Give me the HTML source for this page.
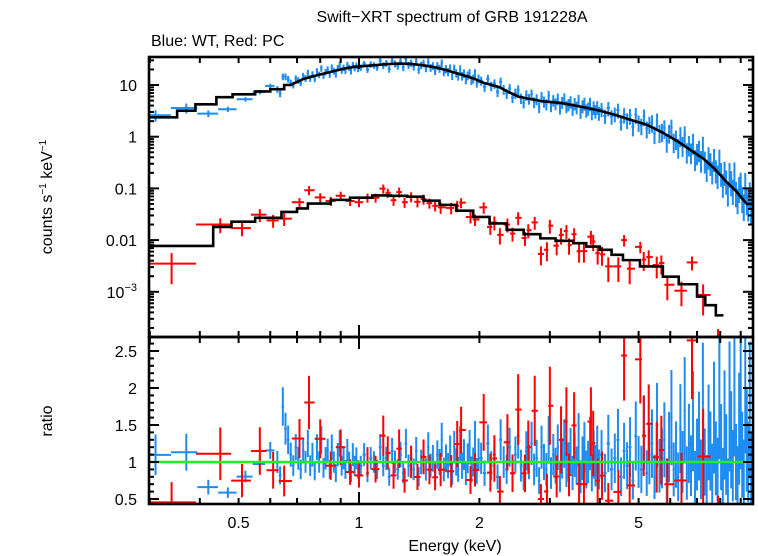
<!DOCTYPE html>
<html><head><meta charset="utf-8"><style>
body{margin:0;background:#fff;}
svg{display:block;font-family:"Liberation Sans",sans-serif;}
</style></head><body>
<svg id="chart" width="758" height="556" viewBox="0 0 758 556" xmlns="http://www.w3.org/2000/svg">
<defs>
<clipPath id="ctop"><rect x="149" y="57" width="604" height="280"/></clipPath>
<clipPath id="cbot"><rect x="149" y="337" width="604" height="167"/></clipPath>
</defs>
<rect width="758" height="556" fill="#fff"/>
<text x="452" y="22" font-size="16" text-anchor="middle">Swift−XRT spectrum of GRB 191228A</text>
<text x="151" y="46" font-size="16">Blue: WT, Red: PC</text>
<text transform="translate(52,197) rotate(-90)" font-size="16" text-anchor="middle">counts s<tspan font-size="10" dy="-6">−1</tspan><tspan dy="6"> keV</tspan><tspan font-size="10" dy="-6">−1</tspan></text>
<text transform="translate(52,421) rotate(-90)" font-size="16" text-anchor="middle">ratio</text>
<text x="455" y="551" font-size="16" text-anchor="middle">Energy (keV)</text>
<g id="gbot" clip-path="url(#cbot)"></g>
<g id="gtop" clip-path="url(#ctop)"></g>
<g id="gaxes"></g>
</svg>
<script>
// Blue (WT) model: bin edges and values
const bmE=[0.3,0.351,0.39,0.44,0.483,0.55,0.6,0.65,0.7,0.75,0.8,0.85,0.9,0.95,1.0,1.1,1.2,1.3,1.4,1.5,1.6,1.7,1.8,1.9,2.0,2.1,2.2,2.3,2.4,2.6,2.8,3.0,3.4,3.8,4.2,4.6,5.0,5.5,6.0,6.5,7.0,7.5,8.0,8.5,9.0,9.66];
const bmV=[2.37,3.18,4.24,5.8,6.6,7.5,8.3,10,13,15,17,19,21,22.5,23.5,25,26,25.5,24,22,19.5,17,15,13,11,10,9,7.5,6,5.3,4.8,4.5,3.8,3.2,2.6,2.1,1.7,1.2,0.82,0.55,0.38,0.24,0.14,0.09,0.05];
// Red (PC) model
const rmE=[0.3,0.432,0.48,0.55,0.64,0.70,0.745,0.85,0.95,1.08,1.2,1.32,1.45,1.59,1.75,1.93,2.12,2.34,2.58,2.84,3.1,3.43,3.7,4.0,4.28,4.57,5.04,5.75,6.3,7.0,7.34,7.8,8.15];
const rmV=[0.0077,0.018,0.0227,0.027,0.035,0.041,0.051,0.06,0.066,0.073,0.072,0.069,0.058,0.048,0.037,0.028,0.021,0.0158,0.013,0.0108,0.0097,0.0087,0.0075,0.0065,0.0052,0.0041,0.0031,0.00196,0.0014,0.00081,0.00055,0.00035];
// Blue low-energy data (counts)
const bLoE=[0.31,0.37,0.42,0.47,0.52,0.565,0.6];
const bLoV=[2.6,3.6,2.8,3.4,5.3,7.3,9.6];
const bLoErr=[0.25,0.22,0.15,0.12,0.1,0.1,0.1];
// Blue WT channels: segments [start keV, step keV]
const bSegStart=[0.62,1.0,2.0,4.0];
const bSegStep=[0.01,0.02,0.04,0.08];
// Blue data/model ratio per channel, per segment
const bR1=[1.0,0.82,1.75,1.45,1.3,1.1,0.95,1.2,1.05,0.9,1.15,1.0,1.25,0.95,1.1,0.88,1.2,1.0,1.3,0.92,1.05,1.15,0.9,1.2,1.0,0.85,1.1,1.25,0.95,1.05,0.9,1.15,1.0,0.85,1.1,0.95,1.05,0.9];
const bR2=[0.95,1.1,0.85,1.05,1.0,0.9,1.2,0.95,1.05,0.8,1.15,1.0,0.9,1.1,0.85,1.25,0.95,1.05,0.9,1.15,0.8,1.0,1.1,0.9,1.2,0.95,1.05,0.85,1.1,1.0,1.3,0.9,1.05,0.95,1.15,0.85,1.2,1.0,0.9,1.25,0.95,1.1,0.85,1.05,1.2,0.9,1.0,1.3,0.88,1.1];
const bR3=[1.05,0.85,1.25,0.95,1.1,0.8,1.3,1.0,0.9,1.2,0.85,1.1,1.35,0.95,0.8,1.15,1.0,1.25,0.9,1.05,0.75,1.2,1.0,0.9,1.3,0.85,1.1,0.95,1.2,0.8,1.05,1.25,0.9,1.0,1.15,0.85,1.1,0.95,1.3,0.8,1.05,1.2,0.9,1.0,1.25,0.85,1.1,0.95,1.15,0.9];
const bR4=[1.1,0.85,1.25,0.9,1.05,1.3,0.8,1.15,0.95,1.2,0.75,1.35,1.0,0.9,1.4,0.85,1.1,1.25,0.8,1.5,0.95,1.05,1.3,0.75,1.2,1.6,0.9,1.1,0.8,1.45,1.0,1.7,0.85,1.25,0.95,1.55,0.8,1.1,1.35,0.9,1.8,1.0,0.75,1.4,1.15,0.85,1.6,1.05,0.9,2.0,1.2,0.8,1.5,1.1,0.7,1.75,1.3,0.95,2.2,1.0,0.8,1.45,1.9,1.1,0.85,2.4,1.3,1.0,1.7,0.9];
// Blue relative error vs energy
const bErrE=[0.6,1,2,4,6,9.6];
const bErrV=[0.15,0.14,0.2,0.3,0.4,0.55];
// Red data
const rE=[0.34,0.45,0.51,0.565,0.61,0.65,0.71,0.75,0.8,0.85,0.9,0.95,1.0,1.05,1.1,1.15,1.18,1.22,1.26,1.3,1.35,1.4,1.45,1.5,1.55,1.6,1.7,1.76,1.8,1.9,1.95,2.05,2.13,2.18,2.25,2.35,2.42,2.5,2.6,2.65,2.75,2.85,2.95,3.0,3.12,3.2,3.3,3.35,3.45,3.55,3.65,3.8,3.85,3.95,4.05,4.2,4.45,4.6,4.75,5.05,5.15,5.3,5.55,5.7,5.9,6.4,6.8,7.25,7.9];
const rV=[0.0035,0.020,0.017,0.031,0.024,0.026,0.054,0.092,0.067,0.057,0.072,0.057,0.054,0.066,0.066,0.099,0.082,0.059,0.085,0.054,0.069,0.055,0.062,0.052,0.046,0.043,0.042,0.046,0.053,0.028,0.025,0.043,0.018,0.022,0.0126,0.020,0.0134,0.027,0.011,0.0156,0.022,0.0054,0.0065,0.019,0.0078,0.0126,0.015,0.008,0.013,0.0061,0.0061,0.0116,0.0094,0.0056,0.0053,0.0031,0.0031,0.010,0.0028,0.0074,0.0042,0.0047,0.0033,0.0036,0.00137,0.00105,0.0037,0.00087,0.0001];
const rErr=[0.6,0.32,0.3,0.28,0.28,0.28,0.2,0.2,0.2,0.2,0.2,0.2,0.2,0.2,0.2,0.2,0.2,0.22,0.22,0.22,0.22,0.22,0.22,0.22,0.22,0.25,0.25,0.25,0.22,0.25,0.25,0.25,0.3,0.3,0.35,0.3,0.3,0.28,0.3,0.3,0.28,0.4,0.4,0.3,0.35,0.35,0.3,0.35,0.3,0.4,0.4,0.3,0.35,0.4,0.4,0.5,0.5,0.25,0.5,0.25,0.4,0.35,0.45,0.4,0.5,0.5,0.3,0.6,0.9];
// Axis tick labels
const xTickVals=[0.5,1,2,5];
const xTickLabels=["0.5","1","2","5"];
const yTopTickVals=[10,1,0.1,0.01];
const yTopTickLabels=["10","1","0.1","0.01"];
const yBotTickVals=[0.5,1,1.5,2,2.5];
const yBotTickLabels=["0.5","1","1.5","2","2.5"];

const NS="http://www.w3.org/2000/svg";
const X0=149,X1=753,TT=57,TB=337,BB=504;
const X=e=>359+400*Math.log10(e);
const YT=v=>85-51.7*(Math.log10(v)-1);
const YB=r=>462-74*(r-1);
function mk(tag,parent,attrs){const el=document.createElementNS(NS,tag);for(const k in attrs)el.setAttribute(k,attrs[k]);parent.appendChild(el);return el;}
const gtop=document.getElementById('gtop'),gbot=document.getElementById('gbot'),gax=document.getElementById('gaxes');
const SMOOTH=0.65;
function stepAt(E,V,e){for(let i=0;i<V.length;i++){if(e>=E[i]&&e<E[i+1])return V[i];}return V[V.length-1];}
// blue model: steps below SMOOTH, log-log interpolated between bin centres above
function blueCentres(){const c=[],v=[];for(let i=0;i<bmV.length;i++){if(bmE[i]>=SMOOTH){c.push(Math.sqrt(bmE[i]*bmE[i+1]));v.push(bmV[i]);}}return [c,v];}
function blueModel(e){if(e<SMOOTH)return stepAt(bmE,bmV,e);const [c,v]=blueCentres();
  if(e<=c[0])return v[0];for(let i=0;i<c.length-1;i++){if(e>=c[i]&&e<=c[i+1]){const t=(Math.log(e)-Math.log(c[i]))/(Math.log(c[i+1])-Math.log(c[i]));return Math.exp(Math.log(v[i])+t*(Math.log(v[i+1])-Math.log(v[i])));}}return v[v.length-1];}
function interp(xs,ys,x){if(x<=xs[0])return ys[0];for(let i=0;i<xs.length-1;i++){if(x<=xs[i+1]){const t=(x-xs[i])/(xs[i+1]-xs[i]);return ys[i]+t*(ys[i+1]-ys[i]);}}return ys[ys.length-1];}

function drawPoint(lo,hi,e,v,r,er,color,name){
  const g=mk('g',gtop,{stroke:color,'stroke-width':2});
  
  
  mk('line',g,{x1:X(lo),x2:X(hi),y1:YT(v),y2:YT(v)});
  mk('line',g,{x1:X(e),x2:X(e),y1:YT(v*(1+er)),y2:YT(Math.max(v*(1-er),1e-6))});
  const g2=mk('g',gbot,{stroke:color,'stroke-width':2});
  
  
  mk('line',g2,{x1:X(lo),x2:X(hi),y1:YB(r),y2:YB(r)});
  mk('line',g2,{x1:X(e),x2:X(e),y1:YB(r*(1+er)),y2:YB(r*(1-er))});
}
function edges(E,i){const lo=i>0?Math.sqrt(E[i-1]*E[i]):E[i]*E[i]/Math.sqrt(E[i]*E[i+1]);const hi=i<E.length-1?Math.sqrt(E[i]*E[i+1]):E[i]*E[i]/Math.sqrt(E[i-1]*E[i]);return [Math.max(lo,0.3),hi];}

// blue low-energy points
for(let i=0;i<bLoE.length;i++){const [lo,hi]=edges(bLoE,i);const r=bLoV[i]/blueModel(bLoE[i]);
  drawPoint(lo,Math.min(hi,0.615),bLoE[i],bLoV[i],r,bLoErr[i],'#1e8cf0','wt-data');}
// blue dense channels
[bR1,bR2,bR3,bR4].forEach((arr,s)=>{arr.forEach((r,j)=>{
  const lo=bSegStart[s]+j*bSegStep[s],hi=lo+bSegStep[s],e=(lo+hi)/2;
  const v=blueModel(e)*r;const er=interp(bErrE,bErrV,e);
  drawPoint(lo,hi,e,v,r,er,'#1e8cf0','wt-data');});});
// red points
for(let i=0;i<rE.length;i++){const [lo,hi]=edges(rE,i);const r=rV[i]/stepAt(rmE,rmV,rE[i]);
  drawPoint(lo,hi,rE[i],rV[i],r,rErr[i],'#ff0000','pc-data');}

// models
function stepPath(E,V){let d='M'+X(E[0])+' '+YT(V[0]);for(let i=0;i<V.length;i++){d+=' H'+X(E[i+1]);if(i+1<V.length)d+=' V'+YT(V[i+1]);}return d;}
function bluePath(){let d='M'+X(bmE[0])+' '+YT(bmV[0]);let i=0;
  for(;i<bmV.length&&bmE[i+1]<=SMOOTH;i++){d+=' H'+X(bmE[i+1])+' V'+YT(bmV[i+1]);}
  const [c,v]=blueCentres();d+=' H'+X(c[0]);for(let k=0;k<c.length;k++)d+=' L'+X(c[k])+' '+YT(v[k]);
  d+=' H'+X(bmE[bmE.length-1]);return d;}
const pb=mk('path',gtop,{d:bluePath(),fill:'none',stroke:'#000','stroke-width':2.6});


const pr=mk('path',gtop,{d:stepPath(rmE,rmV),fill:'none',stroke:'#000','stroke-width':2.6});


const gl=mk('line',gbot,{x1:X0,x2:X1,y1:YB(1),y2:YB(1),stroke:'#22ee22','stroke-width':2.6});



// frames
const f1=mk('rect',gax,{x:X0,y:TT,width:X1-X0,height:TB-TT,fill:'none',stroke:'#000','stroke-width':2.6});


const f2=mk('rect',gax,{x:X0,y:TB,width:X1-X0,height:BB-TB,fill:'none',stroke:'#000','stroke-width':2.6});


const tk=mk('g',gax,{stroke:'#000','stroke-width':2});


const xt=[];for(let e=0.3;e<1;e+=0.1)xt.push(+e.toFixed(1));for(let e=1;e<=9;e++)xt.push(e);
xt.forEach(e=>{const x=X(e);const L=(e===1)?12:6;
  [[TT,1],[TB,-1],[TB,1],[BB,-1]].forEach(([y,s])=>mk('line',tk,{x1:x,x2:x,y1:y,y2:y+s*L}));});
for(let d=-4;d<=1;d++){for(let m=1;m<=9;m++){const v=m*Math.pow(10,d);const y=YT(v);if(y<TT||y>TB)continue;const L=m===1?10:5;
  mk('line',tk,{x1:X0,x2:X0+L,y1:y,y2:y});mk('line',tk,{x1:X1,x2:X1-L,y1:y,y2:y});}}
for(let r=0.5;r<=2.7;r+=0.1){const y=YB(r);const maj=Math.abs(r*2-Math.round(r*2))<1e-6;const L=maj?10:5;
  mk('line',tk,{x1:X0,x2:X0+L,y1:y,y2:y});mk('line',tk,{x1:X1,x2:X1-L,y1:y,y2:y});}
xTickVals.forEach((v,i)=>{const t=mk('text',gax,{x:X(v),y:528,'font-size':16,'text-anchor':'middle'});t.textContent=xTickLabels[i];
  
  });
yTopTickVals.forEach((v,i)=>{const t=mk('text',gax,{x:137,y:YT(v)+6,'font-size':16,'text-anchor':'end'});t.textContent=yTopTickLabels[i];
  
  });
{const t=mk('text',gax,{x:137,y:YT(0.001)+6,'font-size':16,'text-anchor':'end'});
 
 
 t.innerHTML='10<tspan font-size="11" dy="-7">−3</tspan>';}
yBotTickVals.forEach((v,i)=>{const t=mk('text',gax,{x:137,y:YB(v)+6,'font-size':16,'text-anchor':'end'});t.textContent=yBotTickLabels[i];
  
  });
</script>
</body></html>
